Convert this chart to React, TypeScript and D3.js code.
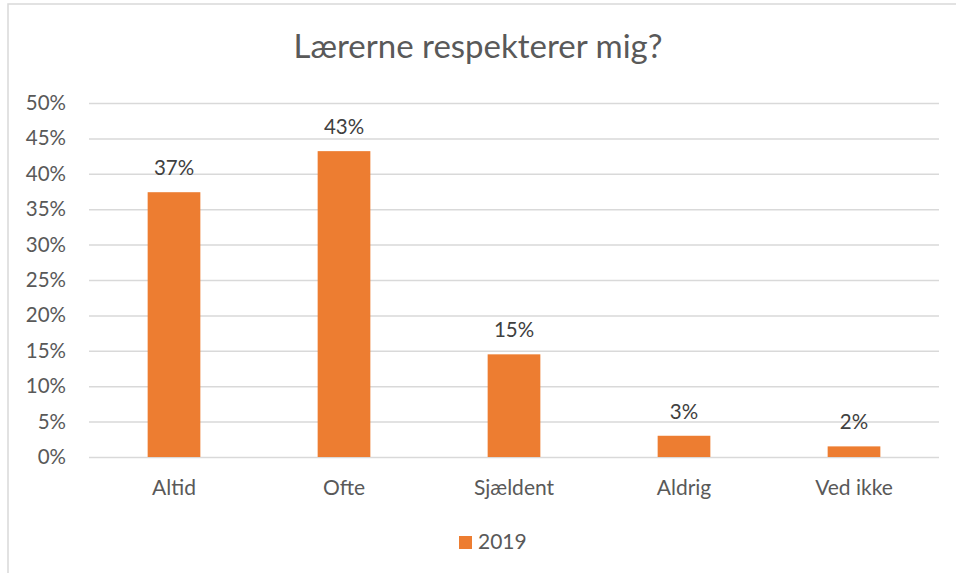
import React, { useEffect, useRef } from 'react';
import * as d3 from 'd3';

// chart data
const categories = ['Altid', 'Ofte', 'Sjældent', 'Aldrig', 'Ved ikke'];
const values2019 = [0.374, 0.432, 0.145, 0.03, 0.015];
const valueLabels = ['37%', '43%', '15%', '3%', '2%'];
const yTicks = [0, 0.05, 0.1, 0.15, 0.2, 0.25, 0.3, 0.35, 0.4, 0.45, 0.5];
const seriesName = '2019';
const title = 'Lærerne respekterer mig?';

const W = 956;
const H = 573;
const FONT = 'Lato, "Liberation Sans", sans-serif';
const TEXT = '#595959';
const GRID = '#d9d9d9';
const BAR = '#ed7d31';

export default function App() {
  const ref = useRef<SVGSVGElement>(null);

  useEffect(() => {
    const svg = d3.select(ref.current);
    svg.selectAll('*').remove();

    const plot = { left: 89, right: 939, top: 103, bottom: 457 };

    const x = d3.scaleBand<string>()
      .domain(categories)
      .range([plot.left, plot.right])
      .paddingInner(0.69)
      .paddingOuter(0.345);
    const y = d3.scaleLinear().domain([0, 0.5]).range([plot.bottom, plot.top]);

    // outer frame
    svg.append('rect')
      .attr('x', 8).attr('y', 4)
      .attr('width', W + 20).attr('height', H + 20)
      .attr('fill', 'white')
      .attr('stroke', GRID).attr('stroke-width', 1.5);

    svg.append('text')
      .attr('x', 478).attr('y', 58)
      .attr('text-anchor', 'middle')
      .attr('font-family', FONT).attr('font-size', 33)
      .attr('fill', TEXT)
      .text(title);

    // gridlines + tick labels
    const yAxis = d3.axisLeft(y)
      .tickValues(yTicks)
      .tickFormat(d => d3.format('.0%')(d as number))
      .tickSize(-(plot.right - plot.left))
      .tickPadding(23);
    const g = svg.append('g')
      .attr('transform', `translate(${plot.left},0)`)
      .call(yAxis);
    g.select('.domain').remove();
    g.selectAll('.tick line').attr('stroke', GRID).attr('stroke-width', 1.5);
    g.selectAll('.tick text')
      .attr('font-family', FONT).attr('font-size', 20.5)
      .attr('fill', TEXT);

    // bars
    svg.append('g').selectAll('rect')
      .data(values2019)
      .enter()
      .append('rect')
      .attr('x', (d, i) => x(categories[i])!)
      .attr('y', d => y(d))
      .attr('width', x.bandwidth())
      .attr('height', d => plot.bottom - y(d))
      .attr('fill', BAR);

    // value labels
    svg.append('g').selectAll('text')
      .data(values2019)
      .enter()
      .append('text')
      .attr('x', (d, i) => x(categories[i])! + x.bandwidth() / 2)
      .attr('y', d => y(d) - 17)
      .attr('text-anchor', 'middle')
      .attr('font-family', FONT).attr('font-size', 20.5)
      .attr('fill', '#404040')
      .text((d, i) => valueLabels[i]);

    // category labels
    svg.append('g').selectAll('text')
      .data(categories)
      .enter()
      .append('text')
      .attr('x', d => x(d)! + x.bandwidth() / 2)
      .attr('y', 495)
      .attr('text-anchor', 'middle')
      .attr('font-family', FONT).attr('font-size', 21)
      .attr('fill', TEXT)
      .text(d => d);

    // legend
    svg.append('rect')
      .attr('x', 459).attr('y', 536)
      .attr('width', 13).attr('height', 13)
      .attr('fill', BAR);
    svg.append('text')
      .attr('x', 478).attr('y', 549)
      .attr('font-family', FONT).attr('font-size', 21)
      .attr('fill', TEXT)
      .text(seriesName);
  }, []);

  return (
    <svg ref={ref} width={W} height={H}
      style={{ position: 'absolute', left: 0, top: 0, display: 'block' }} />
  );
}
